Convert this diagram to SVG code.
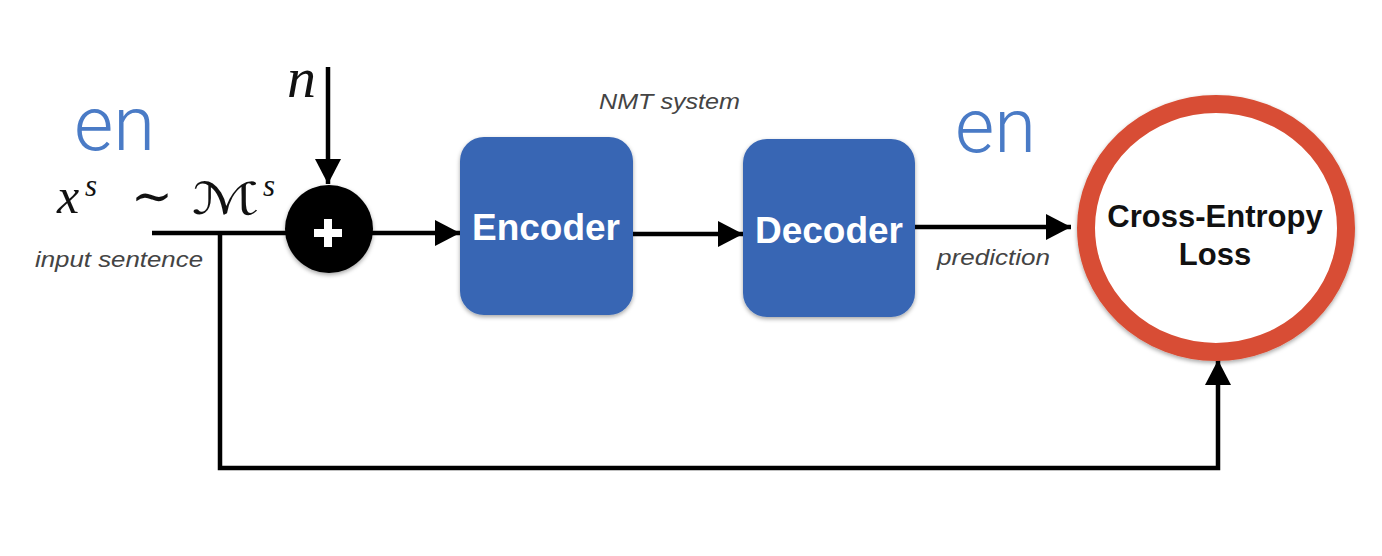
<svg xmlns="http://www.w3.org/2000/svg" width="1382" height="556" viewBox="0 0 1382 556">
  <style>
    .lbl { font-family: "Liberation Sans", Arial, sans-serif; font-style: italic; fill: #444; font-size: 22px; }
    .box { fill: #3866b4; filter: url(#sh); }
    .boxtxt { font-family: "Liberation Sans", Arial, sans-serif; font-weight: bold; fill: #fff; font-size: 37px; text-anchor: middle; }
    .losstxt { font-family: "Liberation Sans", Arial, sans-serif; font-weight: bold; fill: #111; font-size: 31px; text-anchor: middle; }
    .lang { font-family: Roboto, "Liberation Sans", sans-serif; font-weight: 300; fill: #4a7bc6; font-size: 76px; }
    .math { font-family: "Liberation Serif", "DejaVu Serif", serif; font-style: italic; fill: #111; }
    .conn { stroke: #000; stroke-width: 4.5; fill: none; }
  </style>
  <defs>
    <filter id="sh" x="-20%" y="-20%" width="140%" height="140%">
      <feDropShadow dx="0" dy="2" stdDeviation="2" flood-color="#000" flood-opacity="0.35"/>
    </filter>
    <marker id="arr" markerUnits="userSpaceOnUse" markerWidth="25" markerHeight="26" refX="25" refY="13" orient="auto">
      <path d="M0,0 L25,13 L0,26 z" fill="#000"/>
    </marker>
  </defs>

  <g id="connectors">
    <line class="conn" x1="328" y1="67" x2="328" y2="184" marker-end="url(#arr)"/>
    <line class="conn" x1="152" y1="233" x2="300" y2="233"/>
    <line class="conn" x1="360" y1="233" x2="460" y2="233" marker-end="url(#arr)"/>
    <line class="conn" x1="633" y1="234" x2="743" y2="234" marker-end="url(#arr)"/>
    <line class="conn" x1="915" y1="227" x2="1071" y2="227" marker-end="url(#arr)"/>
    <path class="conn" d="M220,233 V468 H1218 V360" marker-end="url(#arr)"/>
  </g>

  <g id="lang-src">
    <text class="lang" x="74" y="150">en</text>
  </g>
  <g id="lang-tgt">
    <text class="lang" x="955" y="152">en</text>
  </g>

  <g id="noise">
    <text class="math" x="287" y="97" font-size="58">n</text>
  </g>

  <g id="input">
    <text class="math" x="57" y="213" font-size="50">x</text>
    <text class="math" x="85" y="196" font-size="31">s</text>
    <text x="152" y="213" font-size="50" text-anchor="middle" font-family="'DejaVu Serif', serif" fill="#111">∼</text>
    <text x="192" y="214" font-size="44" font-family="'DejaVu Sans', 'DejaVu Serif', serif" fill="#111" textLength="68" lengthAdjust="spacingAndGlyphs">ℳ</text>
    <text class="math" x="263" y="196" font-size="31">s</text>
    <text class="lbl" x="35" y="267" textLength="168" lengthAdjust="spacingAndGlyphs">input sentence</text>
  </g>

  <g id="adder">
    <circle cx="329" cy="229" r="44" fill="#000" filter="url(#sh)"/>
    <rect x="314" y="229" width="28" height="8" fill="#fff"/>
    <rect x="324" y="219" width="8" height="28" fill="#fff"/>
  </g>

  <g id="nmt-label">
    <text class="lbl" x="599" y="109" textLength="141" lengthAdjust="spacingAndGlyphs">NMT system</text>
  </g>

  <g id="encoder">
    <rect class="box" x="460" y="137" width="173" height="178" rx="24"/>
    <text class="boxtxt" x="546" y="240">Encoder</text>
  </g>

  <g id="decoder">
    <rect class="box" x="743" y="139" width="172" height="178" rx="24"/>
    <text class="boxtxt" x="829" y="243">Decoder</text>
  </g>

  <g id="prediction-label">
    <text class="lbl" x="937" y="265" textLength="113" lengthAdjust="spacingAndGlyphs">prediction</text>
  </g>

  <g id="loss">
    <ellipse cx="1216" cy="228" rx="130" ry="124" fill="#fff" stroke="#d84e34" stroke-width="18" filter="url(#sh)"/>
    <text class="losstxt" x="1215" y="227">Cross-Entropy</text>
    <text class="losstxt" x="1215" y="265">Loss</text>
  </g>
</svg>
